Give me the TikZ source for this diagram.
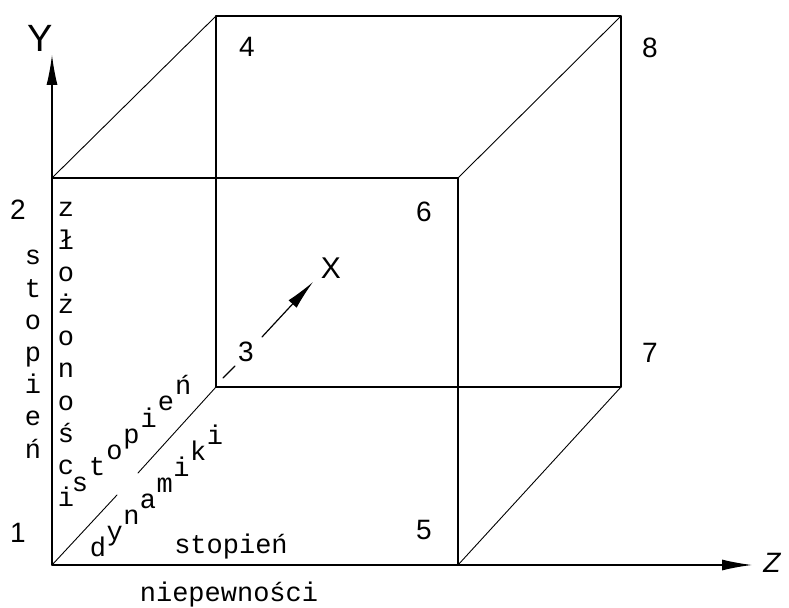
\documentclass[tikz,border=0pt]{standalone}
\usepackage{fontspec}
\setmonofont{Liberation Mono}
\setsansfont{Liberation Sans}
\usetikzlibrary{arrows.meta}
\begin{document}
\begin{tikzpicture}[x=0.5pt, y=-0.5pt, line join=round, line cap=round,
    krawedz/.style={line width=0.6pt},
    ukos/.style={line width=0.45pt},
    grot/.style={-{Latex[length=15pt, width=5.5pt]}},
    litera/.style={font=\fontsize{13.5}{13.5}\selectfont\ttfamily, inner sep=0pt, anchor=base},
    numer/.style={font=\fontsize{14}{14}\selectfont\sffamily, inner sep=0pt},
    os/.style={font=\fontsize{15}{15}\selectfont\sffamily, inner sep=0pt}]
    \useasboundingbox (0,0) rectangle (789,608);
    % 1. Wierzcholki szescianu
    \coordinate (P1) at (52,565);
    \coordinate (P2) at (52,178);
    \coordinate (P3) at (216,387);
    \coordinate (P4) at (216,16);
    \coordinate (P5) at (458,565);
    \coordinate (P6) at (458,178);
    \coordinate (P7) at (621,387);
    \coordinate (P8) at (621,16);
    
    % 2. Osie ukladu
    \coordinate (Ykon) at (52,55);
    \coordinate (Zkon) at (752,565);
    \coordinate (Xa) at (223,378);
    \coordinate (Xb) at (235,366);
    \coordinate (Xpocz) at (262,337);
    \coordinate (Xkon) at (313,282);
    \draw[krawedz, grot] (P1) -- (Ykon);
    \draw[krawedz, grot] (P1) -- (Zkon);
    \draw[krawedz] (Xa) -- (Xb);
    \draw[krawedz, grot] (Xpocz) -- (Xkon);
    \node[os, font=\fontsize{19}{19}\selectfont\sffamily] (osY) at (40,38) {Y};
    \node[os] (osX) at (331,268) {X};
    \node[os, font=\fontsize{14}{14}\selectfont\sffamily\itshape] (osZ) at (772,563) {Z};
    
    % 3. Krawedzie szescianu
    \draw[krawedz] (P2) -- (P6) -- (P5);
    \draw[krawedz] (P3) -- (P7) -- (P8) -- (P4) -- cycle;
    \draw[ukos] (P2) -- (P4) (P6) -- (P8) (P5) -- (P7);
    \coordinate (Ua) at (117,495);
    \coordinate (Ub) at (138,473);
    \draw[ukos] (P1) -- (Ua) (Ub) -- (P3);
    
    % 4. Numery wierzcholkow
    \node[numer] (n1) at (18,533) {1};
    \node[numer] (n2) at (18,210) {2};
    \node[numer] (n3) at (246,352) {3};
    \node[numer] (n4) at (247,47) {4};
    \node[numer] (n5) at (424,530) {5};
    \node[numer] (n6) at (424,212) {6};
    \node[numer] (n7) at (650,353) {7};
    \node[numer] (n8) at (650,48) {8};
    
    % 5. Opisy osi
    \foreach \c [count=\i] in {s,t,o,p,i,e,ń}
        \node[litera] (st\i) at (33, 258+32.2*\i-32.2+7) {\c};
    \foreach \c [count=\i] in {z,ł,o,ż,o,n,o,ś,c,i}
        \node[litera] (zl\i) at (66, 210+32.2*\i-32.2+7) {\c};
    \foreach \c [count=\i] in {s,t,o,p,i,e,ń}
        \node[litera] (sd\i) at (80+17.2*\i-17.2, 485-16.2*\i+16.2+7) {\c};
    \foreach \c [count=\i] in {d,y,n,a,m,i,k,i}
        \node[litera] (dy\i) at (98+16.7*\i-16.7, 550-16*\i+16+7) {\c};
    \node[litera] (stz) at (231,554) {stopień};
    \node[litera] (nie) at (229,602) {niepewności};
\end{tikzpicture}
\end{document}
